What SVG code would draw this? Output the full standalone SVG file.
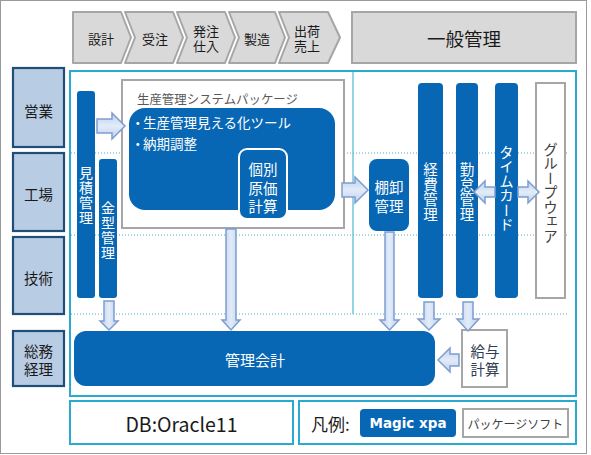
<svg xmlns="http://www.w3.org/2000/svg" width="591" height="455" viewBox="0 0 591 455">
<defs>
<linearGradient id="gv" x1="0" y1="0" x2="1" y2="0"><stop offset="0" stop-color="#bcd0ee"/><stop offset="0.5" stop-color="#e3ecf8"/><stop offset="1" stop-color="#bcd0ee"/></linearGradient>
<linearGradient id="gh" x1="0" y1="0" x2="0" y2="1"><stop offset="0" stop-color="#bcd0ee"/><stop offset="0.5" stop-color="#e3ecf8"/><stop offset="1" stop-color="#bcd0ee"/></linearGradient>
</defs>
<style>
text{font-family:"Noto Sans CJK JP","Noto Sans",sans-serif;}
.chev{fill:#d9d9d9;stroke:#a6a6a6;stroke-width:2;stroke-linejoin:round;}
.ct{font-size:13px;fill:#1a1a1a;text-anchor:middle;dominant-baseline:central;}
.row{fill:#b8cce4;stroke:#1f4e79;stroke-width:2.2;}
.rt{font-size:14.5px;fill:#1a1a1a;text-anchor:middle;dominant-baseline:central;}
.cy{fill:#fff;stroke:#2aaad0;stroke-width:2;}
.blue{fill:#0767b5;}
.gbox{fill:#fff;stroke:#a6a6a6;stroke-width:2;}
.wt{fill:#fff;font-size:14.5px;text-anchor:middle;dominant-baseline:central;}
.vt{writing-mode:vertical-rl;text-anchor:middle;font-size:14.5px;fill:#fff;}
.dot{stroke:#4bacc6;stroke-width:1;stroke-dasharray:1 2;fill:none;}
.arr{stroke:#7f9dcf;stroke-width:1.5;stroke-linejoin:miter;}
</style>
<rect x="0.5" y="0.5" width="586" height="453" fill="#fff" stroke="#9a9a9a" stroke-width="1"/>

<g id="process">
<path class="chev" d="M73,12 L121,12 L131,37.5 L121,63 L73,63 Z"/>
<text class="ct" x="101" y="38">設計</text>
<path class="chev" d="M125,12 L173,12 L183,37.5 L173,63 L125,63 L135,37.5 Z"/>
<text class="ct" x="155" y="38">受注</text>
<path class="chev" d="M177,12 L225,12 L235,37.5 L225,63 L177,63 L187,37.5 Z"/>
<text class="ct" x="206" y="30.5">発注</text>
<text class="ct" x="206" y="45.5">仕入</text>
<path class="chev" d="M229,12 L275,12 L285,37.5 L275,63 L229,63 L239,37.5 Z"/>
<text class="ct" x="257" y="38">製造</text>
<path class="chev" d="M279,12 L328,12 L340,37.5 L328,63 L279,63 L289,37.5 Z"/>
<text class="ct" x="307" y="30.5">出荷</text>
<text class="ct" x="307" y="45.5">売上</text>
</g>
<g id="ippan">
<rect x="352" y="12" width="224" height="51" fill="#d9d9d9" stroke="#a6a6a6" stroke-width="2"/>
<text x="464" y="38" font-size="18.5" fill="#1a1a1a" text-anchor="middle" dominant-baseline="central">一般管理</text>
</g>

<g id="rows">
<rect class="row" x="13" y="68" width="51" height="79"/>
<text class="rt" x="38.5" y="110">営業</text>
<rect class="row" x="13" y="153" width="51" height="78"/>
<text class="rt" x="38.5" y="193">工場</text>
<rect class="row" x="13" y="237" width="51" height="77"/>
<text class="rt" x="38.5" y="277">技術</text>
<rect class="row" x="13" y="331" width="51" height="55"/>
<text class="rt" x="38.5" y="350">総務</text>
<text class="rt" x="38.5" y="368">経理</text>
</g>

<g id="main-frame">
<rect class="cy" x="70" y="71" width="506" height="325"/>
<line x1="353" y1="71" x2="353" y2="314" stroke="#2aaad0" stroke-width="1"/>
<line class="dot" x1="71" y1="153" x2="569" y2="153"/>
<line class="dot" x1="71" y1="235" x2="569" y2="235"/>
<line class="dot" x1="71" y1="314" x2="569" y2="314"/>
</g>

<g id="package">
<rect class="gbox" x="122" y="80" width="222" height="148"/>
<text x="137" y="98" font-size="12.5" fill="#595959" dominant-baseline="central" textLength="161" lengthAdjust="spacingAndGlyphs">生産管理システムパッケージ</text>
</g>
<g id="mieruka">
<rect class="blue" x="129" y="108" width="206" height="102" rx="16"/>
<text fill="#fff" font-size="13.5" dominant-baseline="central" y="122"><tspan x="131">・</tspan><tspan x="143">生産管理見える化ツール</tspan></text>
<text fill="#fff" font-size="13.5" dominant-baseline="central" y="143"><tspan x="131">・</tspan><tspan x="143">納期調整</tspan></text>
</g>
<g id="kobetsu">
<rect x="239" y="149" width="48" height="70" rx="8" fill="#0767b5" stroke="#fff" stroke-width="2"/>
<text class="wt" x="263" y="168">個別</text>
<text class="wt" x="263" y="187">原価</text>
<text class="wt" x="263" y="205">計算</text>
</g>

<g id="mitsumori">
<rect class="blue" x="77" y="91" width="18" height="207" rx="3"/>
<text class="wt" style="font-size:14px"><tspan x="86" y="172">見</tspan><tspan x="86" y="187">積</tspan><tspan x="86" y="202">管</tspan><tspan x="86" y="217">理</tspan></text>
</g>
<g id="kanagata">
<rect class="blue" x="99" y="159" width="18" height="139" rx="3"/>
<text class="wt" style="font-size:14px"><tspan x="108" y="207">金</tspan><tspan x="108" y="222">型</tspan><tspan x="108" y="237">管</tspan><tspan x="108" y="252">理</tspan></text>
</g>
<g id="tanaoroshi">
<rect class="blue" x="369" y="159" width="40" height="72" rx="8"/>
<text class="wt" x="389" y="186">棚卸</text>
<text class="wt" x="389" y="205">管理</text>
</g>
<g id="keihi">
<rect class="blue" x="418" y="83" width="25" height="215" rx="4"/>
<text class="wt"><tspan x="430.5" y="168">経</tspan><tspan x="430.5" y="183">費</tspan><tspan x="430.5" y="198">管</tspan><tspan x="430.5" y="213">理</tspan></text>
</g>
<g id="kintai">
<rect class="blue" x="456" y="83" width="22" height="215" rx="4"/>
<text class="wt"><tspan x="467" y="168">勤</tspan><tspan x="467" y="183">怠</tspan><tspan x="467" y="198">管</tspan><tspan x="467" y="213">理</tspan></text>
</g>
<g id="timecard">
<rect class="blue" x="495" y="83" width="23" height="215" rx="4"/>
<text class="vt" x="506.5" y="188.5">タイムカード</text>
</g>
<g id="groupware">
<rect class="gbox" x="536" y="83" width="29" height="215"/>
<text class="vt" x="550.5" y="192.5" style="fill:#404040">グループウェア</text>
</g>

<g id="kanri-kaikei">
<rect class="blue" x="74" y="331" width="361" height="55" rx="12"/>
<text class="wt" x="255" y="359" style="font-size:15px">管理会計</text>
</g>
<g id="kyuyo">
<rect class="gbox" x="462" y="330" width="45" height="57"/>
<text class="rt" x="485" y="350" style="fill:#2f3d55">給与</text>
<text class="rt" x="485" y="368" style="fill:#2f3d55">計算</text>
</g>

<g id="db">
<rect class="cy" x="70" y="401" width="223" height="43"/>
<text x="181.5" y="423" font-size="19.5" fill="#1a1a1a" text-anchor="middle" dominant-baseline="central">DB:Oracle11</text>
</g>
<g id="legend">
<rect class="cy" x="299" y="401" width="277" height="43"/>
<text x="311" y="423" font-size="17" fill="#1a1a1a" dominant-baseline="central">凡例:</text>
<rect class="blue" x="360" y="409" width="96" height="28" rx="4"/>
<text x="408" y="423" font-size="14" font-weight="bold" fill="#fff" text-anchor="middle" dominant-baseline="central" style="font-family:'DejaVu Sans',sans-serif" textLength="77" lengthAdjust="spacingAndGlyphs">Magic xpa</text>
<rect class="gbox" x="463" y="409" width="105" height="28"/>
<text x="515.5" y="423" font-size="12" fill="#404040" text-anchor="middle" dominant-baseline="central">パッケージソフト</text>
</g>

<g id="connectors">
<path class="arr" fill="url(#gh)" d="M97,119 L112,119 L112,113 L125,126 L112,139 L112,133 L97,133 Z"/>
<path class="arr" fill="url(#gh)" d="M342,183 L355,183 L355,177 L368,190 L355,203 L355,197 L342,197 Z"/>
<path class="arr" fill="url(#gv)" d="M104,301 L114,301 L114,321 L118,321 L109,330 L100,321 L104,321 Z"/>
<path class="arr" fill="url(#gv)" d="M226,229 L236,229 L236,320 L240,320 L231,330 L222,320 L226,320 Z"/>
<path class="arr" fill="url(#gv)" d="M385,232 L394,232 L394,320 L399,320 L389.5,330 L380,320 L385,320 Z"/>
<path class="arr" fill="url(#gv)" d="M424,302 L434,302 L434,319 L440,319 L429,330 L418,319 L424,319 Z"/>
<path class="arr" fill="url(#gv)" d="M463,302 L473,302 L473,319 L479,319 L468,331 L457,319 L463,319 Z"/>
<path class="arr" fill="url(#gh)" d="M459,354 L450,354 L450,348 L438,360 L450,372 L450,366 L459,366 Z"/>
<path class="arr" fill="url(#gh)" d="M495,187 L485,187 L485,181 L474,192 L485,203 L485,197 L495,197 Z"/>
<path class="arr" fill="url(#gh)" d="M518,187 L528,187 L528,181 L539,192 L528,203 L528,197 L518,197 Z"/>
</g>
</svg>
